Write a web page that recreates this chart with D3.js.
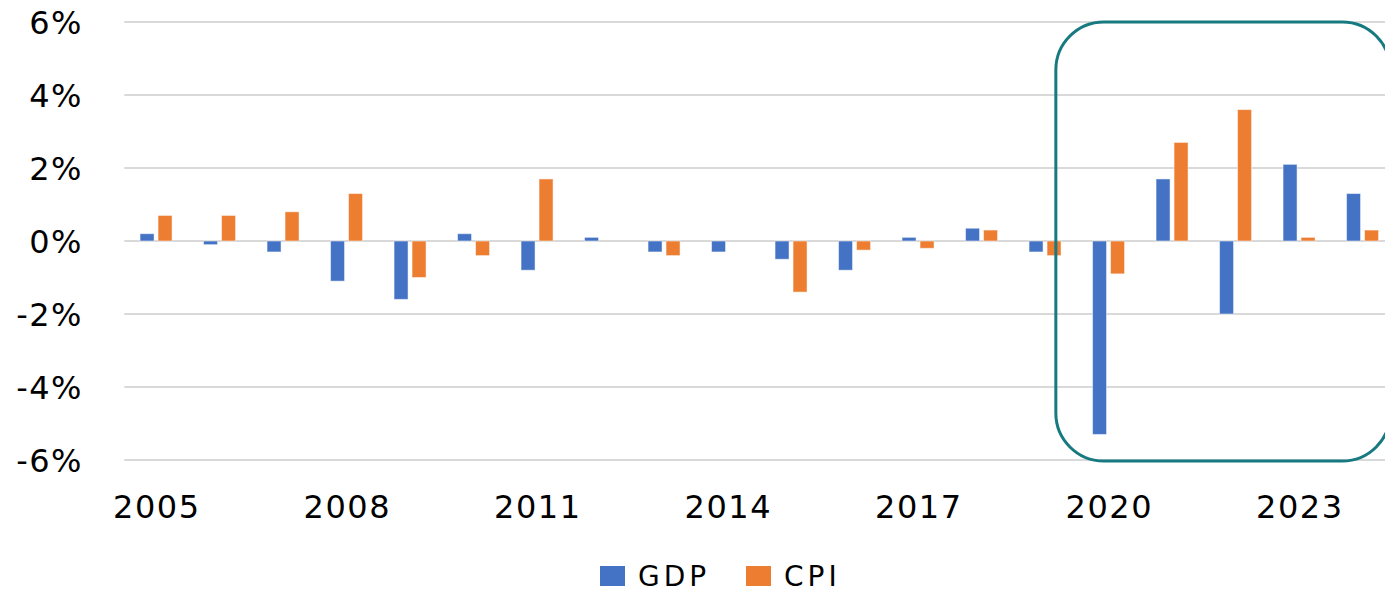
<!DOCTYPE html>
<html>
<head>
<meta charset="utf-8">
<script src="https://cdn.jsdelivr.net/npm/d3@7"></script>
<style>
    body { margin: 0; background: #fff; }
    text { font-family: "DejaVu Sans", Verdana, sans-serif; fill: #000; }
</style>
</head>
<body>
<svg id="chart"></svg>
<script>
// annual change, percent
var years = ["2005", "2006", "2007", "2008", "2009", "2010", "2011", "2012", "2013", "2014",
    "2015", "2016", "2017", "2018", "2019", "2020", "2021", "2022", "2023", "2024"];
var gdp = [0.2, -0.1, -0.3, -1.1, -1.6, 0.2, -0.8, 0.1, -0.3, -0.3,
    -0.5, -0.8, 0.1, 0.35, -0.3, -5.3, 1.7, -2.0, 2.1, 1.3];
var cpi = [0.7, 0.7, 0.8, 1.3, -1.0, -0.4, 1.7, 0, -0.4, 0,
    -1.4, -0.25, -0.2, 0.3, -0.4, -0.9, 2.7, 3.6, 0.1, 0.3];
var series = ["GDP", "CPI"];
var yTicks = [-6, -4, -2, 0, 2, 4, 6];
var xTickYears = ["2005", "2008", "2011", "2014", "2017", "2020", "2023"];

var w = 1385, h = 591;
var color = { GDP: "#4472C4", CPI: "#ED7D31" };

var svg = d3.select("#chart").attr("width", w).attr("height", h);

var x = d3.scaleBand().domain(years).range([124.3, 1394.3]);
var bw = x.bandwidth();
var x1 = d3.scaleBand().domain(series).range([bw * 0.248, bw * 0.752]).paddingInner(0.222);
var y = d3.scaleLinear().domain([-6, 6]).range([460, 22]);

var rows = years.map(function(yr, i) { return { year: yr, GDP: gdp[i], CPI: cpi[i] }; });

// grid
svg.append("g").selectAll("line")
    .data(yTicks)
    .enter().append("line")
    .attr("x1", x.range()[0])
    .attr("x2", w)
    .attr("y1", function(d) { return y(d); })
    .attr("y2", function(d) { return y(d); })
    .attr("stroke", "#d9d9d9")
    .attr("stroke-width", 2);

// y labels
svg.append("g").selectAll("text")
    .data(yTicks)
    .enter().append("text")
    .attr("x", 83)
    .attr("y", function(d) { return y(d); })
    .attr("dy", "0.36em")
    .attr("text-anchor", "end")
    .style("font-size", "32px")
    .style("letter-spacing", "1.5px")
    .text(function(d) { return d + "%"; });

// bars
var groups = svg.append("g").selectAll("g")
    .data(rows)
    .enter().append("g")
    .attr("transform", function(d) { return "translate(" + x(d.year) + ",0)"; });

groups.selectAll("rect")
    .data(function(d) { return series.map(function(s) { return { key: s, value: d[s] }; }); })
    .enter().append("rect")
    .filter(function(d) { return d.value !== 0; })
    .attr("x", function(d) { return x1(d.key); })
    .attr("y", function(d) { return y(Math.max(0, d.value)); })
    .attr("width", x1.bandwidth())
    .attr("height", function(d) { return Math.abs(y(d.value) - y(0)); })
    .attr("fill", function(d) { return color[d.key]; })
    .attr("stroke", "rgba(255,255,255,0.5)")
    .attr("stroke-width", 1);

// x labels
svg.append("g").selectAll("text")
    .data(xTickYears)
    .enter().append("text")
    .attr("x", function(d) { return x(d) + bw / 2 + 0.75; })
    .attr("y", 517.5)
    .attr("text-anchor", "middle")
    .style("font-size", "32px")
    .style("letter-spacing", "1.5px")
    .text(function(d) { return d; });

// highlight box round the last years
var boxLeft = x("2019") + bw * 0.67;
svg.append("rect")
    .attr("x", boxLeft)
    .attr("y", y(6))
    .attr("width", x.range()[1] - 4 - boxLeft)
    .attr("height", y(-6) - y(6) + 1)
    .attr("rx", 48)
    .attr("ry", 48)
    .attr("fill", "none")
    .attr("stroke", "#177a80")
    .attr("stroke-width", 3);

// legend
var legend = svg.append("g").attr("transform", "translate(600,566)");
var items = [{ key: "GDP", dx: 0 }, { key: "CPI", dx: 146 }];
items.forEach(function(it) {
    legend.append("rect")
        .attr("x", it.dx).attr("y", 0)
        .attr("width", 25).attr("height", 20)
        .attr("fill", color[it.key]);
    legend.append("text")
        .attr("x", it.dx + 38)
        .attr("y", 19.5)
        .style("font-size", "28px")
        .style("letter-spacing", "4px")
        .text(it.key);
});
</script>
</body>
</html>
